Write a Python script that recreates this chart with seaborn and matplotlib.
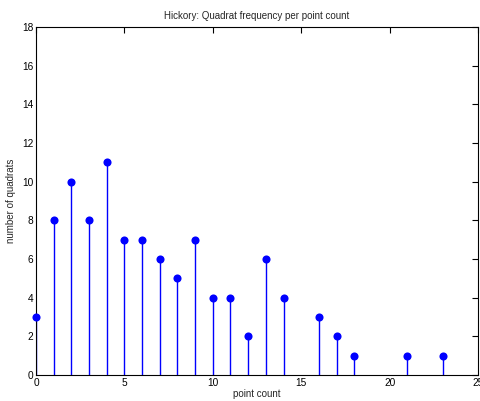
import matplotlib
matplotlib.use("Agg")
import matplotlib.pyplot as plt
import seaborn as sns
import pandas as pd

point_count = [0, 1, 2, 3, 4, 5, 6, 7, 8, 9, 10, 11, 12, 13, 14, 16, 17, 18, 21, 23]
num_quadrats = [3, 8, 10, 8, 11, 7, 7, 6, 5, 7, 4, 4, 2, 6, 4, 3, 2, 1, 1, 1]
x_ticks = [0, 5, 10, 15, 20, 25]
y_ticks = [0, 2, 4, 6, 8, 10, 12, 14, 16, 18]

sns.set_style("white")
plt.rcParams["font.family"] = ["Liberation Sans", "DejaVu Sans"]
plt.rcParams["font.size"] = 7

df = pd.DataFrame({"point count": point_count, "number of quadrats": num_quadrats})

fig = plt.figure(figsize=(4.81, 4.01), dpi=100)
ax = fig.add_axes([36 / 481, 26 / 401, 442 / 481, 348 / 401])

# stems from the baseline up to each value
ax.vlines(df["point count"], 0, df["number of quadrats"], color="#0000ff", linewidth=1.0)
sns.scatterplot(data=df, x="point count", y="number of quadrats", ax=ax,
                color="#0000ff", s=34, edgecolor="#0000ff", linewidth=0,
                zorder=3, clip_on=False)

ax.set_xlim(0, 25)
ax.set_ylim(0, 18)
ax.set_xticks(x_ticks)
ax.set_yticks(y_ticks)
ax.set_title("Hickory: Quadrat frequency per point count", fontsize=7, pad=6)
ax.set_xlabel("point count", fontsize=7, labelpad=1)
ax.set_ylabel("number of quadrats", fontsize=7, labelpad=4)
ax.tick_params(direction="in", length=4, width=0.8, top=True, right=True,
               labelsize=7.3, pad=2, colors="black")
for sp in ax.spines.values():
    sp.set_visible(True)
    sp.set_color("black")
    sp.set_linewidth(0.8)

fig.savefig("out.png", dpi=100)
